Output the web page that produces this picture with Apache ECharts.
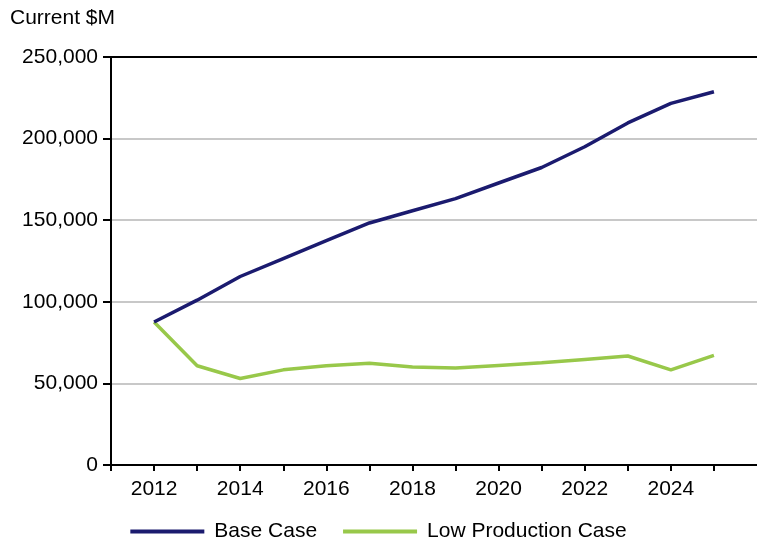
<!DOCTYPE html>
<html>
<head>
<meta charset="utf-8">
<script src="https://cdn.jsdelivr.net/npm/echarts@6/dist/echarts.min.js"></script>
<style>
  html, body { margin: 0; padding: 0; background: #fff; }
  #chart { width: 757px; height: 545px; }
</style>
</head>
<body>
<div id="chart"></div>
<script>
const years = [2012, 2013, 2014, 2015, 2016, 2017, 2018, 2019, 2020, 2021, 2022, 2023, 2024, 2025];
const baseCase = [87600, 101000, 115500, 126500, 137500, 148300, 155800, 163200, 172800, 182300, 195000, 209600, 221600, 228700];
const lowProduction = [87600, 60800, 53000, 58300, 60800, 62400, 60100, 59400, 61000, 62600, 64700, 66800, 58300, 67200];
const yTicks = [0, 50000, 100000, 150000, 200000, 250000];

const font = "Liberation Sans, Arial, sans-serif";
const fontSize = 21;
const gridGrey = "#c8c8c8";

const chart = echarts.init(document.getElementById("chart"));

const toPairs = (vals) => years.map((y, i) => [y, vals[i]]);

const option = {
  animation: false,
  title: {
    text: "Current $M",
    left: 5,
    top: 3,
    textStyle: { fontFamily: font, fontSize: fontSize, fontWeight: "normal", color: "#000" },
  },
  legend: {
    bottom: -2,
    left: "center",
    icon: "rect",
    itemWidth: 74,
    itemHeight: 4,
    itemGap: 26,
    textStyle: { fontFamily: font, fontSize: fontSize, color: "#000", padding: [0, 0, 0, 5] },
    data: ["Base Case", "Low Production Case"],
  },
  grid: { left: 111, right: -3, top: 57, bottom: 80 },
  xAxis: {
    type: "value",
    min: 2011,
    max: 2026,
    interval: 1,
    axisLine: { show: true, onZero: false, lineStyle: { color: "#000", width: 2 } },
    axisTick: { show: true, length: 6, lineStyle: { color: "#000", width: 2 } },
    axisLabel: {
      fontFamily: font,
      fontSize: fontSize,
      color: "#000",
      margin: 14,
      showMaxLabel: false,
      formatter: (v) => (v % 2 === 0 && v >= years[0] && v <= years[years.length - 1] ? String(v) : ""),
    },
    splitLine: { show: false },
  },
  yAxis: {
    type: "value",
    min: yTicks[0],
    max: yTicks[yTicks.length - 1],
    interval: yTicks[1] - yTicks[0],
    axisLine: { show: true, lineStyle: { color: "#000", width: 2 } },
    axisTick: { show: true, length: 8, lineStyle: { color: "#000", width: 2 } },
    axisLabel: {
      fontFamily: font,
      fontSize: fontSize,
      color: "#000",
      margin: 13,
      formatter: (v) => v.toLocaleString("en-US"),
    },
    splitLine: {
      show: true,
      lineStyle: { color: [gridGrey, gridGrey, gridGrey, gridGrey, gridGrey, "#000"], width: 2 },
    },
  },
  series: [
    {
      name: "Base Case",
      type: "line",
      data: toPairs(baseCase),
      symbol: "none",
      color: "#1b1b6f",
      lineStyle: { width: 3.5, color: "#1b1b6f" },
      z: 3,
    },
    {
      name: "Low Production Case",
      type: "line",
      data: toPairs(lowProduction),
      symbol: "none",
      color: "#98c84a",
      lineStyle: { width: 3.5, color: "#98c84a" },
      z: 2,
    },
  ],
};

chart.setOption(option);
</script>
</body>
</html>
